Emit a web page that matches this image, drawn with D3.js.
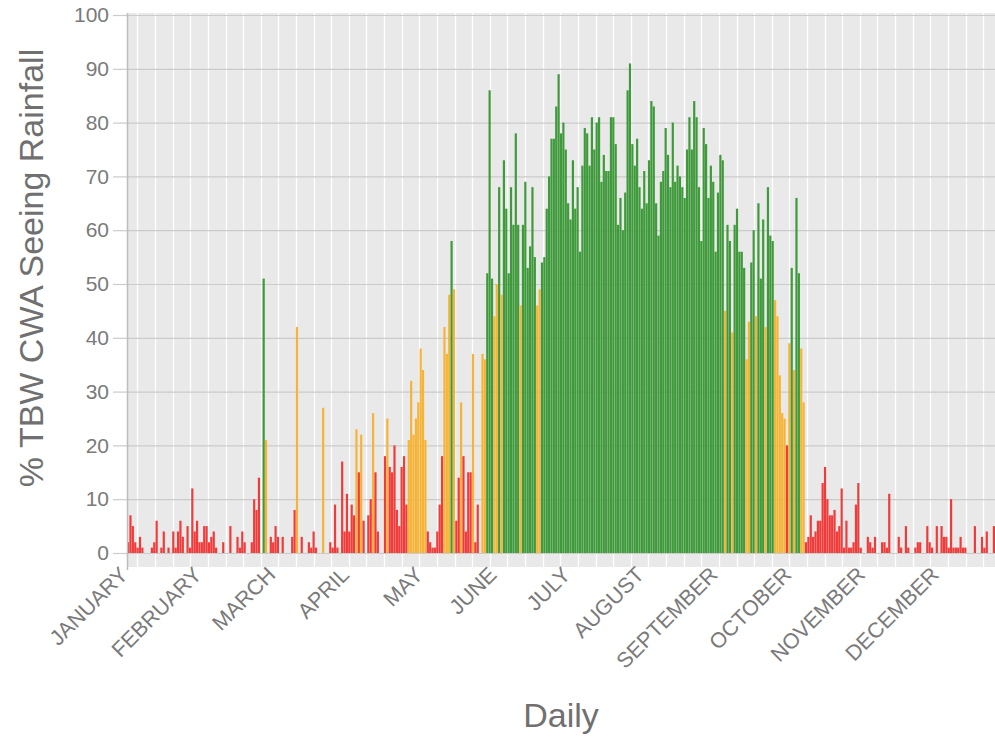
<!DOCTYPE html>
<html>
<head>
<meta charset="utf-8">
<script src="https://cdn.jsdelivr.net/npm/d3@7"></script>
<style>
  html, body { margin: 0; padding: 0; background: #fff; }
  svg { display: block; font-family: "Liberation Sans", Arial, Helvetica, sans-serif; }
</style>
</head>
<body>
<svg id="chart" width="995" height="738"></svg>
<script>
// Daily share (%) of the TBW county warning area seeing rainfall, one value per day.
const jan = [2, 7, 5, 2, 1, 3, 1, 0, 0, 0, 1, 2, 6, 0, 1, 4, 0, 1, 0, 4, 1, 4, 6, 3, 0, 5, 1, 12, 4, 6, 2];
const feb = [2, 5, 5, 2, 3, 4, 1, 0, 0, 2, 0, 0, 5, 0, 0, 3, 1, 4, 2, 0, 0, 2, 10, 8, 14, 0, 51, 21];
const mar = [0, 3, 2, 5, 3, 0, 3, 0, 0, 0, 3, 8, 42, 0, 3, 0, 0, 2, 1, 4, 1, 0, 0, 27, 0, 0, 2, 1, 9, 1, 0];
const apr = [17, 4, 11, 4, 9, 7, 23, 15, 22, 6, 0, 7, 10, 26, 15, 4, 0, 0, 18, 25, 16, 15, 20, 8, 5, 16, 18, 9, 21, 32];
const may = [22, 25, 28, 38, 34, 21, 4, 2, 1, 1, 4, 9, 18, 42, 37, 48, 58, 49, 6, 14, 28, 18, 4, 15, 15, 37, 2, 9, 0, 37, 36];
const jun = [52, 86, 51, 44, 50, 68, 48, 73, 64, 52, 68, 61, 78, 61, 46, 61, 69, 53, 57, 68, 55, 46, 49, 54, 55, 64, 70, 77, 77, 83];
const jul = [89, 78, 80, 75, 65, 62, 73, 64, 68, 56, 72, 79, 78, 72, 81, 75, 80, 81, 69, 74, 71, 71, 81, 81, 76, 61, 66, 60, 67, 86, 91];
const aug = [76, 72, 77, 68, 64, 71, 65, 73, 84, 83, 65, 59, 69, 71, 79, 74, 68, 80, 69, 72, 70, 68, 66, 75, 81, 75, 84, 81, 68, 58, 79];
const sep = [76, 66, 72, 69, 56, 67, 74, 73, 45, 61, 58, 41, 61, 64, 56, 56, 53, 36, 43, 54, 60, 44, 65, 51, 62, 42, 68, 59, 58, 47];
const oct = [44, 33, 26, 25, 20, 39, 53, 34, 66, 52, 38, 28, 2, 3, 7, 3, 4, 6, 6, 13, 16, 10, 7, 7, 8, 4, 5, 12, 1, 6, 1];
const nov = [1, 2, 9, 13, 1, 0, 0, 3, 2, 1, 3, 0, 0, 2, 2, 1, 11, 0, 0, 0, 3, 1, 0, 5, 1, 0, 0, 1, 2, 2];
const dec = [0, 0, 5, 2, 1, 0, 5, 0, 5, 3, 3, 1, 10, 1, 1, 1, 3, 1, 1, 0, 0, 0, 5, 0, 0, 3, 1, 4, 0, 0, 5];

const monthLabels = ["JANUARY", "FEBRUARY", "MARCH", "APRIL", "MAY", "JUNE",
                     "JULY", "AUGUST", "SEPTEMBER", "OCTOBER", "NOVEMBER", "DECEMBER"];
const yTickValues = [0, 10, 20, 30, 40, 50, 60, 70, 80, 90, 100];

(function draw() {
  const daily = [].concat(jan, feb, mar, apr, may, jun, jul, aug, sep, oct, nov, dec);
  const days = d3.range(daily.length);

  // layout
  const plotLeft = 127, plotRight = 995, plotTop = 15, plotBottom = 553;
  const panelTop = 13, panelBottom = 567;
  const labelEvery = 31;          // a month label every 31 days
  const gridStepDays = 7.41, gridPhaseDays = 4.37;

  const svg = d3.select("#chart");

  const x = d3.scaleBand().domain(days).range([plotLeft, plotRight]).paddingInner(0.08).paddingOuter(0);
  const xLin = d3.scaleLinear().domain([0, daily.length]).range([plotLeft, plotRight]);
  const y = d3.scaleLinear().domain([0, 100]).range([plotBottom, plotTop]);

  const colorFor = v => v > 50 ? "#3f9a3b" : (v > 20 ? "#f6b436" : "#f03b3b");

  // panel background
  svg.append("rect")
    .attr("x", plotLeft).attr("y", panelTop)
    .attr("width", plotRight - plotLeft).attr("height", panelBottom - panelTop)
    .attr("fill", "#e9e9e9");

  // vertical minor grid
  const gridDays = d3.range(gridPhaseDays, daily.length, gridStepDays);
  svg.append("g").selectAll("line").data(gridDays).join("line")
    .attr("x1", d => Math.round(xLin(d)) + 0.5).attr("x2", d => Math.round(xLin(d)) + 0.5)
    .attr("y1", panelTop).attr("y2", panelBottom)
    .attr("stroke", "#ffffff").attr("stroke-width", 1.3);

  // horizontal grid + y axis
  const yAxis = d3.axisLeft(y).tickValues(yTickValues).tickSize(14).tickPadding(4).tickSizeOuter(0);
  const gy = svg.append("g").attr("transform", `translate(${plotLeft},0)`).call(yAxis);
  gy.select(".domain").remove();
  gy.selectAll(".tick line").clone().attr("x1", 0).attr("x2", plotRight - plotLeft);
  gy.selectAll(".tick line").attr("stroke", "#cbcbcb").attr("stroke-width", 1.2);
  gy.selectAll(".tick text")
    .attr("fill", "#7a7a7a").attr("font-size", 21)
    .attr("font-family", "Liberation Sans, Arial, sans-serif");

  // bars
  svg.append("g").selectAll("rect").data(days).join("rect")
    .attr("x", d => x(d))
    .attr("width", x.bandwidth())
    .attr("y", d => y(daily[d]))
    .attr("height", d => y(0) - y(daily[d]))
    .attr("fill", d => colorFor(daily[d]));

  // left axis line
  svg.append("line")
    .attr("x1", plotLeft + 0.5).attr("x2", plotLeft + 0.5)
    .attr("y1", panelTop).attr("y2", panelBottom + 3)
    .attr("stroke", "#bdbdbd").attr("stroke-width", 1.5);

  // month labels on the x axis
  const tickDays = monthLabels.map((m, i) => i * labelEvery);
  svg.append("g").selectAll("text").data(tickDays).join("text")
    .attr("transform", d => `translate(${x(d) + x.step() / 2 + 1},576) rotate(-45)`)
    .attr("text-anchor", "end")
    .attr("font-size", 21.5)
    .attr("fill", "#7a7a7a")
    .text((d, i) => monthLabels[i]);

  // axis titles
  svg.append("text")
    .attr("x", (plotLeft + plotRight) / 2).attr("y", 727)
    .attr("text-anchor", "middle")
    .attr("font-size", 34).attr("fill", "#707070")
    .text("Daily");

  svg.append("text")
    .attr("transform", "translate(43,268) rotate(-90)")
    .attr("text-anchor", "middle")
    .attr("font-size", 34).attr("fill", "#707070")
    .text("% TBW CWA Seeing Rainfall");
})();
</script>
</body>
</html>
